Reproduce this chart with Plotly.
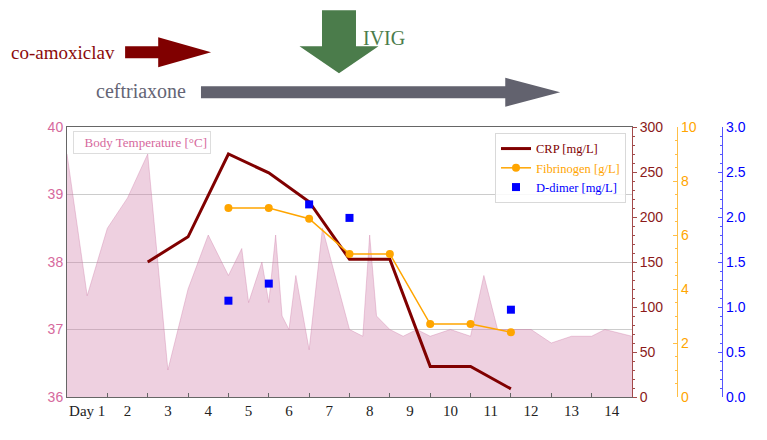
import plotly.graph_objects as go

# ---------------- data ----------------
days = list(range(1, 15))
day_labels = ["Day 1"] + [str(d) for d in range(2, 15)]
day_bounds = [d + 0.5 for d in range(1, 14)]

temp_t = [0.5, 1.0, 1.5, 2.0, 2.5, 3.0, 3.5, 4.0, 4.5, 4.83, 5.0, 5.33, 5.5, 5.67, 5.83,
          6.0, 6.17, 6.5, 6.83, 7.5, 7.83, 8.0, 8.17, 8.5, 8.83, 9.17, 9.5, 10.0, 10.5,
          10.83, 11.17, 12.0, 12.5, 13.0, 13.5, 13.83, 14.5]
temp_c = [39.6, 37.5, 38.5, 38.95, 39.6, 36.4, 37.6, 38.4, 37.8, 38.2, 37.4, 38.0, 37.4, 38.4, 37.2,
          37.0, 37.8, 36.7, 38.5, 37.0, 36.9, 38.4, 37.2, 37.0, 36.9, 37.0, 36.9, 37.0, 36.9,
          37.8, 37.0, 37.0, 36.8, 36.9, 36.9, 37.0, 36.9]

crp_t = [2.5, 3.5, 4.5, 5.5, 6.5, 7.5, 8.5, 9.5, 10.5, 11.5]
crp = [150, 178, 270, 249, 217, 153, 153, 34, 34, 9]

fib_t = [4.5, 5.5, 6.5, 7.5, 8.5, 9.5, 10.5, 11.5]
fib = [7.0, 7.0, 6.6, 5.3, 5.3, 2.7, 2.7, 2.4]

dd_t = [4.5, 5.5, 6.5, 7.5, 11.5]
dd = [1.07, 1.26, 2.14, 1.99, 0.97]

# treatments (day positions)
coamox_days = [1.94, 4.07]
ceftri_days = [3.82, 12.72]
ivig_day = 7.24

SERIF = "Liberation Serif"
SANS = "Liberation Sans"
PINK = "#d6699d"
CRP_C = "#800000"
FIB_C = "#ffa500"
DD_C = "#0000ff"

fig = go.Figure()

fig.add_trace(go.Scatter(
    x=temp_t, y=temp_c, mode="lines", fill="tozeroy",
    fillcolor="rgba(205,120,165,0.35)", line=dict(color="rgba(205,120,165,0.45)", width=0.8),
    showlegend=False, yaxis="y"))

fig.add_trace(go.Scatter(
    x=crp_t, y=crp, mode="lines", name=f"<span style='color:{CRP_C}'>CRP [mg/L]</span>",
    line=dict(color=CRP_C, width=3), yaxis="y2"))

fig.add_trace(go.Scatter(
    x=fib_t, y=fib, mode="lines+markers",
    name=f"<span style='color:{FIB_C}'>Fibrinogen [g/L]</span>",
    line=dict(color=FIB_C, width=1.5), marker=dict(color=FIB_C, size=8, symbol="circle"),
    yaxis="y3"))

fig.add_trace(go.Scatter(
    x=dd_t, y=dd, mode="markers", name=f"<span style='color:{DD_C}'>D-dimer [mg/L]</span>",
    marker=dict(color=DD_C, size=8, symbol="square"), yaxis="y4"))

# ---------------- treatment arrows ----------------
def harrow(x0, x1, yc, bh, hh, hl):
    xh = x1 - hl
    return (f"M {x0} {yc-bh} L {xh} {yc-bh} L {xh} {yc-hh} L {x1} {yc} "
            f"L {xh} {yc+hh} L {xh} {yc+bh} L {x0} {yc+bh} Z")

def varrow(xc, ytop, yhead, ytip, bw, hw):
    return (f"M {xc-bw} {ytop} L {xc+bw} {ytop} L {xc+bw} {yhead} L {xc+hw} {yhead} "
            f"L {xc} {ytip} L {xc-hw} {yhead} L {xc-bw} {yhead} Z")

shapes = [
    dict(type="path", xref="x", yref="paper",
         path=harrow(coamox_days[0], coamox_days[1], 1.2767, 0.0222, 0.0556, 1.31),
         fillcolor="#800000", line=dict(width=0)),
    dict(type="path", xref="x", yref="paper",
         path=harrow(ceftri_days[0], ceftri_days[1], 1.1285, 0.0222, 0.0537, 1.36),
         fillcolor="#62626e", line=dict(width=0)),
    dict(type="path", xref="x", yref="paper",
         path=varrow(ivig_day, 1.4322, 1.2989, 1.1989, 0.421, 0.979),
         fillcolor="#4b7c4b", line=dict(width=0)),
]

annotations = [
    dict(text="co-amoxiclav", x=1.74, y=1.2767, xref="x", yref="paper",
         xanchor="right", yanchor="middle", showarrow=False,
         font=dict(family=SERIF, size=19, color="#8b0a0a")),
    dict(text="ceftriaxone", x=3.5, y=1.1322, xref="x", yref="paper",
         xanchor="right", yanchor="middle", showarrow=False,
         font=dict(family=SERIF, size=20, color="#656575")),
    dict(text="IVIG", x=7.78, y=1.3285, xref="x", yref="paper",
         xanchor="left", yanchor="middle", showarrow=False,
         font=dict(family=SERIF, size=20, color="#4b7c4b")),
    dict(text="Body Temperature [°C]", x=0.0089, y=0.984, xref="paper", yref="paper",
         xanchor="left", yanchor="top", showarrow=False, width=130, align="right",
         borderpad=3, bordercolor="#dddddd", borderwidth=1, bgcolor="rgba(255,255,255,0.85)",
         font=dict(family=SERIF, size=13, color=PINK)),
]

fig.update_layout(
    width=767, height=440,
    margin=dict(l=59, r=30, t=118.7, b=51.3),
    paper_bgcolor="white", plot_bgcolor="white",
    shapes=shapes, annotations=annotations,
    legend=dict(x=0.8245, xanchor="right", y=0.978, yanchor="top",
                bgcolor="rgba(255,255,255,0.85)", bordercolor="#d9d9d9", borderwidth=1,
                font=dict(family=SERIF, size=12.5)),
    xaxis=dict(domain=[0, 0.8333], range=[0.5, 14.5], tickmode="array", tickvals=days,
               ticktext=day_labels, ticks="", showline=True, linecolor="#666666",
               linewidth=1, mirror=True, showgrid=False, zeroline=False,
               tickfont=dict(family=SERIF, size=15, color="#222222"),
               minor=dict(tickmode="array", tickvals=day_bounds, ticks="inside",
                          ticklen=4, tickcolor="#666666")),
    yaxis=dict(range=[36, 40], dtick=1, showgrid=True, gridcolor="#cccccc",
               showline=True, linecolor="#666666", zeroline=False, ticks="",
               tickfont=dict(family=SANS, size=14, color=PINK)),
    yaxis2=dict(overlaying="y", side="right", anchor="x", range=[0, 300], dtick=50,
                showgrid=False, zeroline=False, showline=True, linecolor="#a34a4a",
                ticks="outside", ticklen=4, tickcolor="#a34a4a",
                minor=dict(dtick=10, ticks="outside", ticklen=2, tickcolor="#a34a4a"),
                tickfont=dict(family=SANS, size=14, color="#8b1a1a")),
    yaxis3=dict(overlaying="y", side="right", anchor="free", position=0.9001,
                range=[0, 10], dtick=2, showgrid=False, zeroline=False, showline=True,
                linecolor="#ffbf47", ticks="inside", ticklen=4, tickcolor="#ffbf47",
                minor=dict(dtick=0.5, ticks="inside", ticklen=2, tickcolor="#ffbf47"),
                tickfont=dict(family=SANS, size=14, color=FIB_C)),
    yaxis4=dict(overlaying="y", side="right", anchor="free", position=0.9665,
                range=[0, 3], dtick=0.5, tickformat=".1f", showgrid=False, zeroline=False,
                showline=True, linecolor="#5555ff", ticks="inside", ticklen=4,
                tickcolor="#5555ff",
                minor=dict(dtick=0.1, ticks="inside", ticklen=2, tickcolor="#5555ff"),
                tickfont=dict(family=SANS, size=14, color=DD_C)),
)

fig.write_html("out.html")
